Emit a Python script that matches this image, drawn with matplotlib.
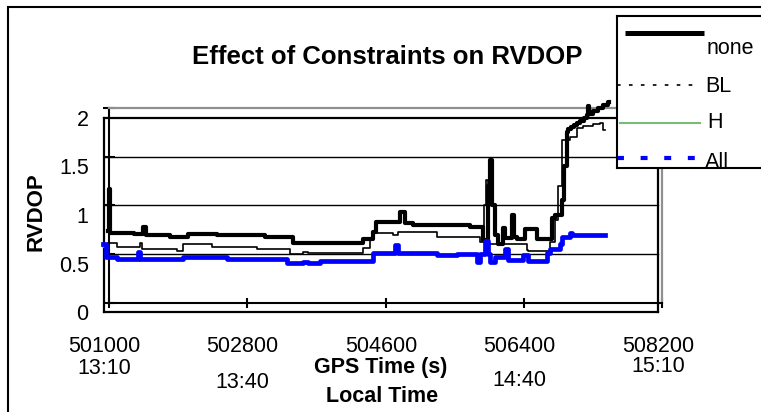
import matplotlib
matplotlib.use('Agg')
import matplotlib.pyplot as plt
from matplotlib.patches import Rectangle
from matplotlib.transforms import blended_transform_factory

plt.rcParams['font.family'] = ['Liberation Sans', 'DejaVu Sans']
plt.rcParams['lines.scale_dashes'] = False

# ---- data -----------------------------------------------------------------
gps_ticks = [501000, 502800, 504600, 506400, 508200]
gps_labels = ['501000', '502800', '504600', '506400', '508200']
local_labels = ['13:10', '13:40', '14:40', '15:10']
local_at = [501000, 502800, 506400, 508200]
y_ticks = [0, 0.5, 1, 1.5, 2]
y_labels = ['0', '0.5', '1', '1.5', '2']

none_t = [500985, 500995, 501010, 501320, 501447, 501482, 501794, 502030,
          502402, 503031, 503400, 504311, 504442, 504470, 504789, 504854,
          504962, 505700, 505870, 505939, 505960, 505990, 506026, 506069,
          506134, 506160, 506243, 506270, 506308, 506416, 506568, 506764,
          506807, 506894, 506930, 506959, 506980, 507020, 507060, 507089,
          507130, 507180, 507219, 507232, 507250, 507300, 507371, 507430,
          507497, 507510]
none_v = [0.74, 1.17, 0.72, 0.71, 0.78, 0.70, 0.67, 0.71,
          0.695, 0.672, 0.616, 0.65, 0.73, 0.83, 0.935, 0.82,
          0.80, 0.78, 0.64, 1.20, 1.47, 1.00, 0.70, 0.60,
          0.77, 0.66, 0.90, 0.68, 0.65, 0.754, 0.65, 0.867,
          0.90, 1.055, 1.40, 1.757, 1.78, 1.80, 1.83, 1.846,
          1.87, 1.90, 1.928, 2.02, 1.94, 1.97, 2.00, 2.03,
          2.065, 2.065]

bl_t = [500985, 501100, 501404, 501425, 501881, 501968, 502337, 502923,
        503357, 503530, 503595, 504311, 504400, 504442, 504702, 504767,
        505266, 505527, 505830, 505880, 505905, 505935, 506438, 506460,
        506742, 506807, 506850, 506894, 507002, 507089, 507176, 507306,
        507393, 507436, 507460]
bl_v = [0.61, 0.575, 0.61, 0.55, 0.53, 0.60, 0.575, 0.55,
        0.50, 0.52, 0.51, 0.56, 0.65, 0.72, 0.70, 0.73,
        0.67, 0.68, 0.62, 1.00, 1.26, 0.60, 0.54, 0.53,
        0.62, 0.85, 1.20, 1.67, 1.705, 1.795, 1.815, 1.836,
        1.85, 1.774, 1.774]

all_t = [500926, 500960, 501100, 501382, 501404, 501968, 502532, 503313,
         503530, 503595, 503747, 504442, 504724, 504767, 505266, 505527,
         505787, 505830, 505900, 505935, 505961, 506026, 506156, 506199,
         506395, 506460, 506698, 506742, 506872, 506894, 507002, 507024,
         507458]
all_v = [0.60, 0.472, 0.446, 0.52, 0.446, 0.466, 0.446, 0.405,
         0.42, 0.405, 0.43, 0.507, 0.59, 0.51, 0.49, 0.50,
         0.42, 0.50, 0.63, 0.50, 0.42, 0.47, 0.55, 0.44,
         0.49, 0.43, 0.51, 0.55, 0.60, 0.67, 0.72, 0.695,
         0.695]

# H runs under All almost everywhere
h_t = [500926, 500960, 501100, 501382, 501404, 501968, 502532, 503313,
       503530, 503595, 503747, 504442, 504724, 504767, 505266, 505527,
       505787, 505830, 505900, 505935, 505961, 506026, 506156, 506199,
       506395, 506460, 506698, 506742, 506872, 506894, 507002, 507024,
       507458]
h_v = [0.57, 0.472, 0.446, 0.52, 0.446, 0.466, 0.446, 0.405,
       0.42, 0.405, 0.43, 0.507, 0.59, 0.51, 0.49, 0.50,
       0.42, 0.50, 0.63, 0.50, 0.42, 0.47, 0.55, 0.44,
       0.49, 0.43, 0.51, 0.55, 0.62, 0.67, 0.72, 0.695,
       0.695]

BLUE = '#0000ff'
GREEN = '#77bb77'
GREY = '#909090'
FS = 15.5

# ---- figure ---------------------------------------------------------------
W, H = 761, 412
fig = plt.figure(figsize=(W / 100, H / 100), dpi=100)


def fx(px):
    return px / W


def fy(py):
    return 1 - py / H


# outer chart border
fig.patches.append(Rectangle((fx(7.5), -0.05), 1.2, fy(6.5) + 0.05,
                             transform=fig.transFigure, fill=False,
                             lw=1.5, ec='black', zorder=0))

# frame carrying the value labels
ax_out = fig.add_axes([fx(104), fy(312), fx(658) - fx(104), fy(118) - fy(312)])
ax_out.set_xlim(501000, 508200)
ax_out.set_ylim(0, 2)
ax_out.set_xticks(gps_ticks)
ax_out.set_xticklabels(gps_labels, fontsize=FS)
ax_out.set_yticks(y_ticks)
ax_out.set_yticklabels(y_labels, fontsize=FS)
ax_out.tick_params(axis='both', length=0)
ax_out.tick_params(axis='y', pad=11)
ax_out.tick_params(axis='x', pad=17)
for s in ax_out.spines.values():
    s.set_linewidth(1.6)
    s.set_color('black')

# plotting area
ax = fig.add_axes([fx(109), fy(302.7), fx(662) - fx(109), fy(108) - fy(302.7)])
ax.patch.set_alpha(0)
ax.set_xlim(501000, 508200)
ax.set_ylim(0, 2)
ax.set_xticks(gps_ticks)
ax.set_yticks(y_ticks)
ax.set_xticklabels([])
ax.set_yticklabels([])
ax.tick_params(axis='x', direction='inout', length=7.5, width=1.5)
ax.tick_params(axis='y', direction='inout', length=8.5, width=1.5)
ax.spines['left'].set_linewidth(1.5)
ax.spines['bottom'].set_linewidth(1.5)
ax.spines['top'].set_color(GREY)
ax.spines['top'].set_linewidth(1.6)
ax.spines['right'].set_color(GREY)
ax.spines['right'].set_linewidth(1.6)

# gridlines across the frame width
gtrans = blended_transform_factory(ax_out.transAxes, ax.transData)
for g in [0.5, 1.0, 1.5]:
    ax.plot([0, 1], [g, g], transform=gtrans, color='black', lw=1.0,
            zorder=1, clip_on=False)

ax.plot(none_t, none_v, drawstyle='steps-post', color='black', lw=3.0,
        zorder=3, clip_on=False)
ax.plot(bl_t, bl_v, drawstyle='steps-post', color='black', lw=1.2,
        zorder=4, clip_on=False)
ax.plot(h_t, h_v, drawstyle='steps-post', color=GREEN, lw=1.2,
        zorder=4, clip_on=False)
ax.plot(all_t, all_v, drawstyle='steps-post', color=BLUE, lw=3.4,
        zorder=5, clip_on=False)

# titles and axis captions
fig.text(fx(387), fy(57), 'Effect of Constraints on RVDOP', ha='center',
         va='center', fontsize=18.5, fontweight='bold')
fig.text(fx(36), fy(212), 'RVDOP', rotation=90, ha='center', va='center',
         fontsize=16, fontweight='bold')
fig.text(fx(381), fy(368), 'GPS Time (s)', ha='center', va='center',
         fontsize=15.5, fontweight='bold')
fig.text(fx(382), fy(396), 'Local Time', ha='center', va='center',
         fontsize=15.5, fontweight='bold')

ltrans = blended_transform_factory(ax_out.transData, fig.transFigure)
local_y = [368, 382, 380, 367]
for lab, t, py in zip(local_labels, local_at, local_y):
    fig.text(t, fy(py), lab, transform=ltrans, ha='center', va='center',
             fontsize=FS)

# legend box, laid out in pixel units
leg = fig.add_axes([fx(617), fy(168), fx(775) - fx(617), fy(16) - fy(168)])
leg.set_xlim(617, 775)
leg.set_ylim(168, 16)
leg.set_xticks([])
leg.set_yticks([])
leg.set_zorder(10)
for s in leg.spines.values():
    s.set_linewidth(1.5)
leg.plot([625, 704], [33, 33], color='black', lw=3.6, solid_capstyle='butt')
leg.plot([617, 697], [84.5, 84.5], color='black', lw=1.2,
         dashes=(2.6, 6.0))
leg.plot([620, 700], [123, 123], color=GREEN, lw=1.5)
leg.plot([617, 700], [158, 158], color=BLUE, lw=3.0, dashes=(5.0, 12.0),
         solid_capstyle='butt', dash_capstyle='butt')
leg.text(707, 48, 'none', ha='left', va='center', fontsize=FS)
leg.text(705, 87, 'BL', ha='left', va='center', fontsize=FS)
leg.text(707, 123, 'H', ha='left', va='center', fontsize=FS)
leg.text(705, 162, 'All', ha='left', va='center', fontsize=FS)

fig.savefig('out.png', dpi=100)
